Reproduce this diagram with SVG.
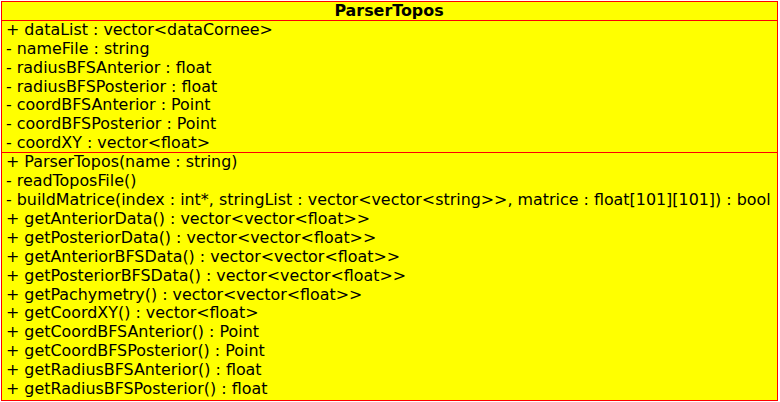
<svg xmlns="http://www.w3.org/2000/svg" width="780" height="402" viewBox="0 0 780 402">
<style>
.box{fill:#ffff00;stroke:#ff0000;stroke-width:1}
.sep{stroke:#ff0000;stroke-width:1}
text{font-family:"DejaVu Sans",sans-serif;font-size:15.9px;fill:#000}
.title{font-weight:bold;text-anchor:middle}
</style>
<g id="ParserTopos">
<rect class="box" x="1.5" y="1.5" width="776" height="399"/>
<line class="sep" x1="1.5" y1="20.5" x2="777.5" y2="20.5"/>
<line class="sep" x1="1.5" y1="152.5" x2="777.5" y2="152.5"/>
<text class="title" x="389" y="16">ParserTopos</text>
<text x="6" y="35">+ dataList : vector&lt;dataCornee&gt;</text>
<text x="6" y="54">- nameFile : string</text>
<text x="6" y="73">- radiusBFSAnterior : float</text>
<text x="6" y="92">- radiusBFSPosterior : float</text>
<text x="6" y="110">- coordBFSAnterior : Point</text>
<text x="6" y="129">- coordBFSPosterior : Point</text>
<text x="6" y="148">- coordXY : vector&lt;float&gt;</text>
<text x="6" y="167">+ ParserTopos(name : string)</text>
<text x="6" y="186">- readToposFile()</text>
<text x="6" y="205">- buildMatrice(index : int*, stringList : vector&lt;vector&lt;string&gt;&gt;, matrice : float[101][101]) : bool</text>
<text x="6" y="224">+ getAnteriorData() : vector&lt;vector&lt;float&gt;&gt;</text>
<text x="6" y="243">+ getPosteriorData() : vector&lt;vector&lt;float&gt;&gt;</text>
<text x="6" y="262">+ getAnteriorBFSData() : vector&lt;vector&lt;float&gt;&gt;</text>
<text x="6" y="281">+ getPosteriorBFSData() : vector&lt;vector&lt;float&gt;&gt;</text>
<text x="6" y="300">+ getPachymetry() : vector&lt;vector&lt;float&gt;&gt;</text>
<text x="6" y="318">+ getCoordXY() : vector&lt;float&gt;</text>
<text x="6" y="337">+ getCoordBFSAnterior() : Point</text>
<text x="6" y="356">+ getCoordBFSPosterior() : Point</text>
<text x="6" y="375">+ getRadiusBFSAnterior() : float</text>
<text x="6" y="394">+ getRadiusBFSPosterior() : float</text>
</g>
</svg>
